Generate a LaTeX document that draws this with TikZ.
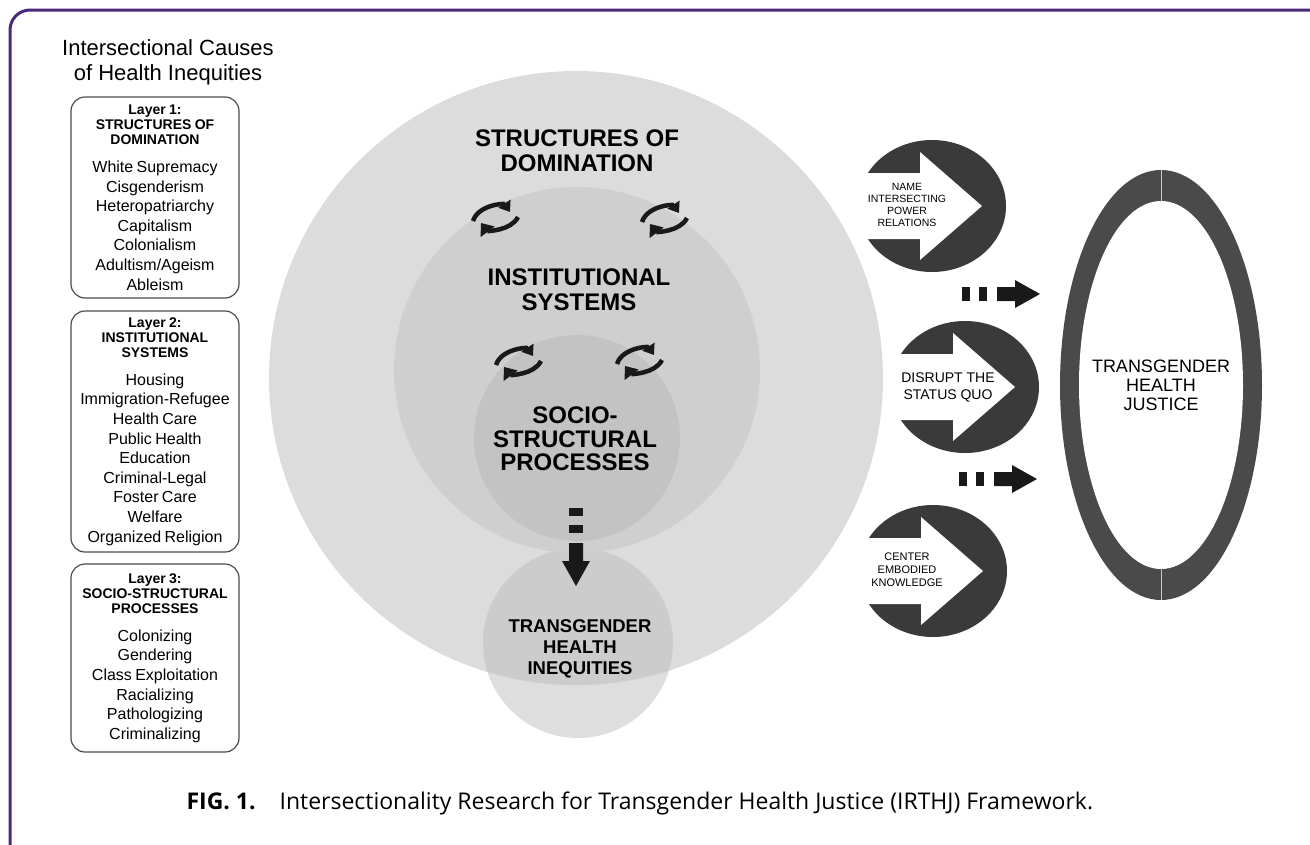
\documentclass[tikz,border=0pt]{standalone}
\usepackage{fontspec}
\setmainfont{Liberation Sans}
\newfontfamily\captionfont{Open Sans}
\usetikzlibrary{shapes.geometric,arrows.meta,positioning}

\definecolor{framepurple}{RGB}{74,40,122}
\definecolor{ringdark}{RGB}{74,74,74}
\definecolor{ovaldark}{RGB}{58,58,58}
\definecolor{layerone}{RGB}{220,220,220}
\definecolor{layertwo}{RGB}{207,207,207}
\definecolor{layerthree}{RGB}{195,195,195}
\definecolor{outcomefill}{RGB}{222,222,222}
\definecolor{outcomeshade}{RGB}{204,204,204}

% header and list of one layer box
\newcommand{\layertext}[2]{%
  {\bfseries\fontsize{14}{15}\selectfont #1\par}\vspace{8.4pt}%
  {\fontsize{16}{19.6}\selectfont #2\par}}

\tikzset{
  layerbox/.style={draw=black!70, line width=1.2pt, rounded corners=14pt,
    minimum width=168pt, text width=164pt, align=center, inner sep=0pt},
  disc/.style={circle, inner sep=0pt},
  circletext/.style={font=\bfseries\fontsize{24}{25}\selectfont, align=center},
  outcometext/.style={font=\bfseries\fontsize{18.5}{21}\selectfont, align=center},
  actionoval/.style={ellipse, fill=ovaldark, minimum width=148pt,
    minimum height=132pt, inner sep=0pt},
  smallaction/.style={font=\fontsize{10.5}{12}\selectfont, align=center},
  swirl/.pic={
    \draw[line width=4.5pt, -{Triangle[length=10pt,width=14pt]}]
      (-22,4) .. controls (-17,-12) and (9,-14) .. (15,-5);
    \draw[line width=4.5pt, -{Triangle[length=11pt,width=17pt]}]
      (23,0) .. controls (16,14) and (-8,14) .. (-14,6);
  },
  dashedarrow/.pic={
    \fill (0,-7) rectangle (8,7);
    \fill (17,-7) rectangle (25,7);
    \fill (35,-7) -- (53,-7) -- (53,-14) -- (78,0) -- (53,14) -- (53,7)
      -- (35,7) -- cycle;
  },
  openarrow/.pic={
    \fill[white] (-76,-33) -- (-12,-33) -- (-12,-54) -- (50,0) -- (-12,54)
      -- (-12,33) -- (-76,33) -- cycle;
  }
}

\begin{document}
\begin{tikzpicture}[x=1pt,y=-1pt]
  \useasboundingbox (0,0) rectangle (1310,844);
  \draw[framepurple, line width=3pt, rounded corners=20pt]
    (10,846) -- (10,10) -- (1330,10);

  % left column
  \node[align=center, font=\fontsize{22}{25}\selectfont] (causes) at (168,62)
    {Intersectional Causes\\of Health Inequities};
  \node[layerbox, minimum height=201pt] (layer1) at (155,197.5) {\layertext
    {Layer 1:\\STRUCTURES OF\\DOMINATION}
    {White Supremacy\\Cisgenderism\\Heteropatriarchy\\Capitalism\\Colonialism\\Adultism/Ageism\\Ableism}};
  \node[layerbox, minimum height=241pt] (layer2) at (155,431.5) {\layertext
    {Layer 2:\\INSTITUTIONAL\\SYSTEMS}
    {Housing\\Immigration-Refugee\\Health Care\\Public Health\\Education\\Criminal-Legal\\Foster Care\\Welfare\\Organized Religion}};
  \node[layerbox, minimum height=188pt] (layer3) at (155,658) {\layertext
    {Layer 3:\\SOCIO-STRUCTURAL\\PROCESSES}
    {Colonizing\\Gendering\\Class Exploitation\\Racializing\\Pathologizing\\Criminalizing}};

  % nested circles
  \node[disc, fill=outcomefill, minimum size=190pt] (inequities) at (578,643) {};
  \node[disc, fill=layerone, minimum size=614pt] (domination) at (576,378) {};
  \begin{scope}
    \clip (domination.center) circle[radius=307];
    \fill[outcomeshade] (inequities.center) circle[radius=95];
  \end{scope}
  \node[disc, fill=layertwo, minimum size=366pt] (institutions) at (577,370) {};
  \node[disc, fill=layerthree, minimum size=206pt] (processes) at (577,438) {};

  \node[circletext] (dominationlabel) at (577,151) {STRUCTURES OF\\DOMINATION};
  \node[circletext] (institutionslabel) at (579,290) {INSTITUTIONAL\\SYSTEMS};
  \node[circletext, font=\bfseries\fontsize{24}{23.5}\selectfont]
    (processeslabel) at (575,439) {SOCIO-\\STRUCTURAL\\PROCESSES};
  \node[outcometext] (inequitieslabel) at (580,649) {TRANSGENDER\\HEALTH\\INEQUITIES};

  \foreach \x/\y in {495/217, 664/218, 518/361, 639/360}
    \pic[black!90] at (\x,\y) {swirl};
  \pic[black!90, rotate=-90] at (576,508) {dashedarrow};

  % the three principles
  \node[actionoval] (nameoval) at (932,206) {};
  \node[actionoval] (disruptoval) at (965,387) {};
  \node[actionoval] (centeroval) at (933,571) {};
  \foreach \oval in {nameoval, disruptoval, centeroval}
    \pic at (\oval.center) {openarrow};
  \node[smallaction] (nametext) at (907,205)
    {NAME\\INTERSECTING\\POWER\\RELATIONS};
  \node[align=center, font=\fontsize{14}{17}\selectfont] (disrupttext)
    at (948,387) {DISRUPT THE\\STATUS QUO};
  \node[smallaction, font=\fontsize{11}{13}\selectfont] (centertext)
    at (907,570) {CENTER\\EMBODIED\\KNOWLEDGE};

  \pic[black!90] at (962,294) {dashedarrow};
  \pic[black!90] at (959,479) {dashedarrow};

  % goal
  \node[ellipse, fill=ringdark, minimum width=202pt, minimum height=430pt,
    inner sep=0pt] (justiceouter) at (1161,385) {};
  \node[ellipse, fill=white, minimum width=164pt, minimum height=368pt,
    inner sep=0pt] (justiceinner) at (justiceouter.center) {};
  \draw[white!70!ringdark, line width=0.6pt]
    (justiceouter.north) -- (justiceinner.north)
    (justiceouter.south) -- (justiceinner.south);
  \node[align=center, font=\fontsize{18}{19}\selectfont] (justice)
    at (justiceinner.center) {TRANSGENDER\\HEALTH\\JUSTICE};

  % caption
  \node[anchor=west, font=\captionfont\fontsize{23}{26}\selectfont] (caption)
    at (183,803) {\textbf{FIG. 1.}\hspace{24pt}Intersectionality Research
    for Transgender Health Justice (IRTHJ) Framework.};
\end{tikzpicture}
\end{document}
